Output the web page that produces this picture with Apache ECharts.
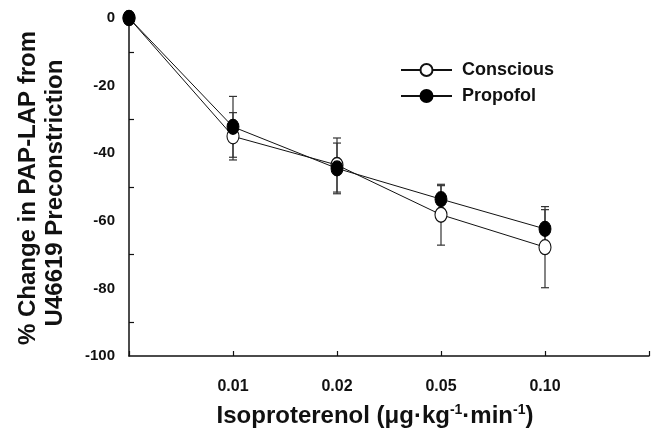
<!DOCTYPE html>
<html>
<head>
<meta charset="utf-8">
<script src="https://cdn.jsdelivr.net/npm/echarts@6/dist/echarts.min.js"></script>
<style>html,body{margin:0;padding:0;background:#fff;}#c{width:652px;height:432px;}</style>
</head>
<body>
<div id="c"></div>
<script>
var xLabels = ['', '0.01', '0.02', '0.05', '0.10', ''];
var xPos = [0, 1, 2, 3, 4];
var conscious = [0, -35, -43.5, -58.2, -67.8];
var consciousErr = [0, 7, 8, 9, 12];
var propofol = [0, -32.2, -44.5, -53.6, -62.4];
var propofolErr = [0, 9, 7.5, 4, 5.7];
var yTicks = [0, -20, -40, -60, -80, -100];

var FONT = '"Liberation Sans", Arial, sans-serif';

function pairs(vals) { return xPos.map(function (x, i) { return [x, vals[i]]; }); }
function errData(vals, errs) {
  return xPos.map(function (x, i) { return [x, vals[i] - errs[i], vals[i] + errs[i]]; }).filter(function (d, i) { return errs[i] > 0; });
}
function errRender(params, api) {
  var x = api.value(0);
  var lo = api.coord([x, api.value(1)]);
  var hi = api.coord([x, api.value(2)]);
  var w = 4;
  var st = { stroke: '#333', lineWidth: 1.2 };
  return { type: 'group', children: [
    { type: 'line', shape: { x1: lo[0], y1: lo[1], x2: hi[0], y2: hi[1] }, style: st },
    { type: 'line', shape: { x1: lo[0] - w, y1: lo[1], x2: lo[0] + w, y2: lo[1] }, style: st },
    { type: 'line', shape: { x1: hi[0] - w, y1: hi[1], x2: hi[0] + w, y2: hi[1] }, style: st }
  ] };
}

var chart = echarts.init(document.getElementById('c'));
chart.setOption({
  animation: false,
  backgroundColor: '#fff',
  grid: { left: 129, right: 3, top: 18, bottom: 76, containLabel: false },
  xAxis: {
    type: 'value', min: 0, max: 5, interval: 1, position: 'bottom',
    axisLine: { show: true, onZero: false, lineStyle: { color: '#111', width: 1.5 } },
    axisTick: { show: true, inside: true, length: 5, lineStyle: { color: '#111', width: 1.2 } },
    splitLine: { show: false },
    axisLabel: { margin: 23, fontFamily: FONT, fontWeight: 'bold', fontSize: 16, color: '#111',
      formatter: function (v) { return xLabels[Math.round(v)] || ''; } }
  },
  yAxis: {
    type: 'value', min: -100, max: 0, interval: 20,
    axisLine: { show: true, onZero: false, lineStyle: { color: '#111', width: 1.5 } },
    axisTick: { show: false, inside: true },
    minorTick: { show: true, splitNumber: 2, length: 5, lineStyle: { color: '#111', width: 1.2 } },
    splitLine: { show: false },
    axisLabel: { margin: 14, fontFamily: FONT, fontWeight: 'bold', fontSize: 15, color: '#111',
      formatter: function (v) { return yTicks.indexOf(v) >= 0 ? String(v) : ''; } }
  },
  legend: {
    orient: 'vertical', left: 395, top: 56, itemWidth: 51, itemHeight: 15, itemGap: 8,
    data: ['Conscious', 'Propofol'],
    textStyle: { fontFamily: FONT, fontWeight: 'bold', fontSize: 18, color: '#111', padding: [0, 0, 0, 5] }
  },
  series: [
    { name: 'Conscious-err', type: 'custom', renderItem: errRender, data: errData(conscious, consciousErr), z: 1, silent: true },
    { name: 'Propofol-err', type: 'custom', renderItem: errRender, data: errData(propofol, propofolErr), z: 1, silent: true },
    { name: 'Conscious', type: 'line', data: pairs(conscious), symbol: 'circle', symbolSize: [12, 15],
      lineStyle: { color: '#111', width: 1 }, itemStyle: { color: '#fff', borderColor: '#111', borderWidth: 1.2 }, z: 3 },
    { name: 'Propofol', type: 'line', data: pairs(propofol), symbol: 'circle', symbolSize: [12, 15],
      lineStyle: { color: '#111', width: 1 }, itemStyle: { color: '#000', borderColor: '#000', borderWidth: 1 }, z: 4 }
  ],
  graphic: [
    { type: 'text', x: 28, y: 188, rotation: Math.PI / 2,
      style: { text: '% Change in PAP-LAP from', fontFamily: FONT, fontWeight: 'bold', fontSize: 24, fill: '#111', align: 'center', verticalAlign: 'middle' } },
    { type: 'text', x: 55, y: 193, rotation: Math.PI / 2,
      style: { text: 'U46619 Preconstriction', fontFamily: FONT, fontWeight: 'bold', fontSize: 24, fill: '#111', align: 'center', verticalAlign: 'middle' } },
    { type: 'text', x: 375, y: 416,
      style: { text: '{b|Isoproterenol (μg·kg}{s|-1}{b|·min}{s|-1}{b|)}', align: 'center', verticalAlign: 'middle',
        rich: {
          b: { fontFamily: FONT, fontWeight: 'bold', fontSize: 24, fill: '#111' },
          s: { fontFamily: FONT, fontWeight: 'bold', fontSize: 14, fill: '#111', padding: [0, 0, 12, 0] }
        } } }
  ]
});
</script>
</body>
</html>
